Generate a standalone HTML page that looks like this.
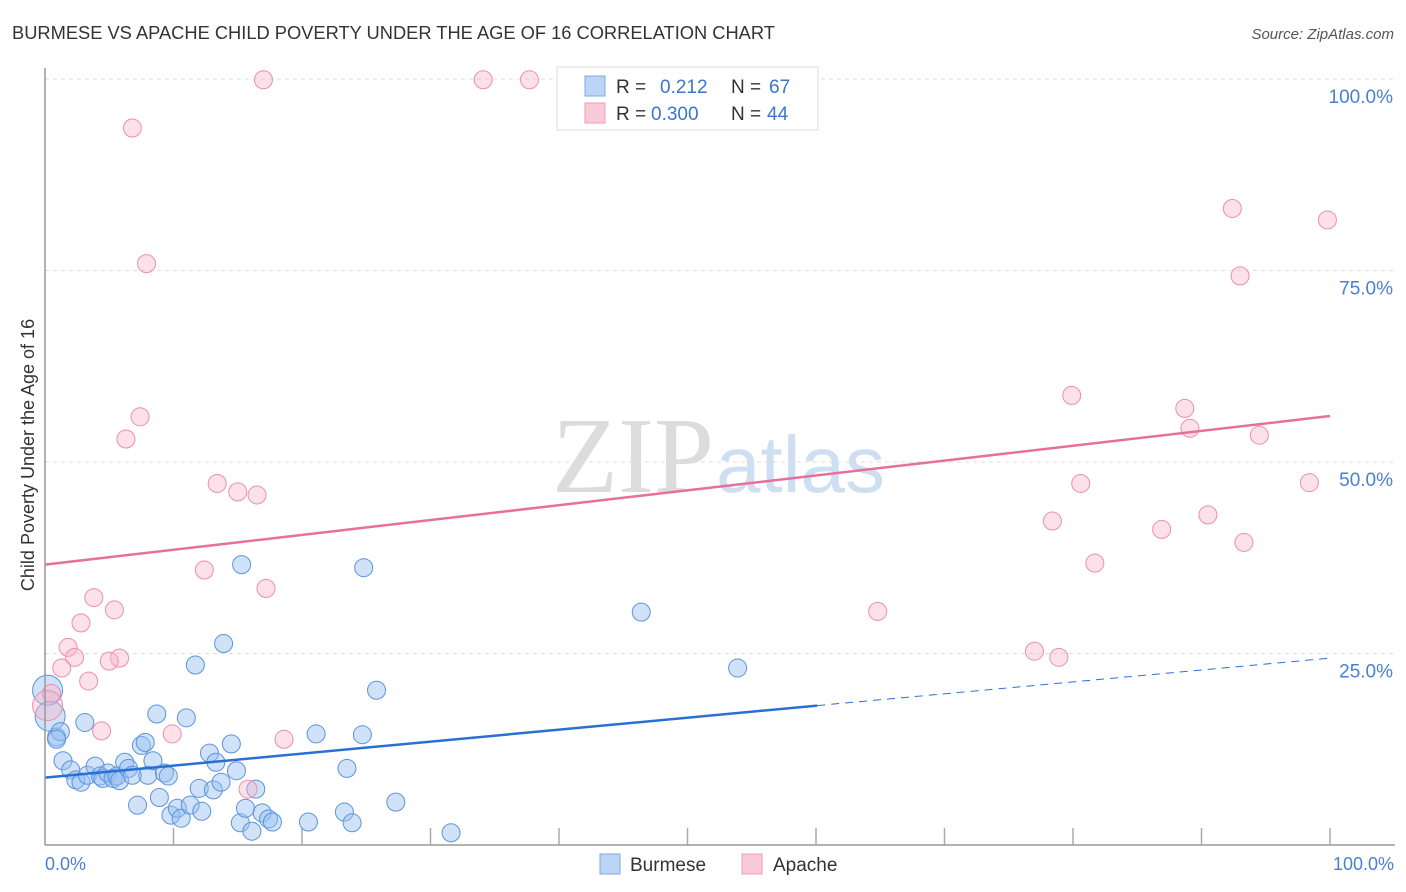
<!DOCTYPE html>
<html><head><meta charset="utf-8"><style>
body{margin:0;background:#fff;font-family:"Liberation Sans",sans-serif}
svg{display:block}
</style></head><body>
<svg id="c" width="1406" height="892" xmlns="http://www.w3.org/2000/svg">
<text x="12" y="39" font-size="18.3" fill="#333">BURMESE VS APACHE CHILD POVERTY UNDER THE AGE OF 16 CORRELATION CHART</text>
<text x="1394" y="39" font-size="15" fill="#555" font-style="italic" text-anchor="end">Source: ZipAtlas.com</text>
<text x="34" y="455" font-size="18" fill="#333" text-anchor="middle" transform="rotate(-90 34 455)">Child Poverty Under the Age of 16</text>
<text x="714" y="492" font-size="108" fill="#dcdcdc" text-anchor="end" font-family="Liberation Serif,serif">ZIP</text>
<text x="716" y="492" font-size="80" fill="#cfdff2">atlas</text>
<g id="grid"></g><g id="marks"></g>
<line x1="45" y1="68" x2="45" y2="845" stroke="#999" stroke-width="1.5"/>
<line x1="45" y1="845" x2="1395" y2="845" stroke="#999" stroke-width="1.5"/>
<text x="45" y="870" font-size="18" fill="#4a7fd4">0.0%</text>
<text x="1394" y="870" font-size="18" fill="#4a7fd4" text-anchor="end">100.0%</text>
<g>
<rect x="557" y="67" width="261" height="63" fill="#fff" stroke="#ddd"/>
<rect x="585" y="76" width="20" height="20" fill="#bcd4f5" stroke="#7fa8e6"/>
<rect x="585" y="103" width="20" height="20" fill="#fbcad8" stroke="#f09ab4"/>
<text y="93" font-size="19" fill="#333"><tspan x="616">R =</tspan><tspan x="660" fill="#3a75d0">0.212</tspan><tspan x="731">N =</tspan><tspan x="769" fill="#3a75d0">67</tspan></text>
<text y="120" font-size="19" fill="#333"><tspan x="616">R =</tspan><tspan x="651" fill="#3a75d0">0.300</tspan><tspan x="731">N =</tspan><tspan x="767" fill="#3a75d0">44</tspan></text>
</g>
<g>
<rect x="600" y="854" width="20" height="20" fill="#bcd4f5" stroke="#7fa8e6"/>
<text x="630" y="871" font-size="19" fill="#333">Burmese</text>
<rect x="742" y="854" width="20" height="20" fill="#fbcad8" stroke="#f09ab4"/>
<text x="773" y="871" font-size="19" fill="#333">Apache</text>
</g>
</svg>
<script>
const yTicks=[25,50,75,100];
const xTicks=[10,20,30,40,50,60,70,80,90,100];
const burmeseX=[0.2,0.4,0.9,1.2,1.4,0.9,2.0,2.4,2.8,3.1,3.3,3.9,4.3,4.5,4.9,5.3,5.6,5.8,6.2,6.5,6.8,7.2,7.5,7.8,8.0,8.4,8.7,8.9,9.3,9.6,9.8,10.3,10.6,11.0,11.3,11.7,12.0,12.2,12.8,13.1,13.3,13.7,13.9,14.5,14.9,15.2,15.3,15.6,16.1,16.4,16.9,17.4,17.7,20.5,21.1,23.3,23.5,23.9,24.7,24.8,25.8,27.3,31.6,46.4,53.9];
const burmeseY=[20.2,16.8,14.1,14.8,11.0,13.8,9.8,8.5,8.2,16.0,9.1,10.3,9.0,8.7,9.4,8.7,9.0,8.4,10.8,10.0,9.1,5.2,13.0,13.4,9.1,11.0,17.1,6.2,9.4,9.0,3.9,4.8,3.5,16.6,5.2,23.5,7.4,4.4,12.0,7.2,10.8,8.2,26.3,13.2,9.7,2.9,36.6,4.8,1.8,7.3,4.2,3.4,3.0,3.0,14.5,4.3,10.0,2.9,14.4,36.2,20.2,5.6,1.6,30.4,23.1];
const apacheX=[17.0,34.1,37.7,6.8,7.9,7.4,6.3,13.4,15.0,16.5,12.4,17.2,3.8,5.4,2.8,1.8,2.3,5.8,5.0,1.3,3.4,0.5,0.2,4.4,9.9,18.6,15.8,92.4,99.8,93.0,79.9,88.7,89.1,94.5,80.6,98.4,78.4,90.5,86.9,93.3,81.7,64.8,77.0,78.9];
const apacheY=[99.9,99.9,99.9,93.6,75.9,55.9,53.0,47.2,46.1,45.7,35.9,33.5,32.3,30.7,29.0,25.8,24.5,24.4,24.0,23.1,21.4,19.8,18.2,14.9,14.5,13.8,7.3,83.1,81.6,74.3,58.7,57.0,54.4,53.5,47.2,47.3,42.3,43.1,41.2,39.5,36.8,30.5,25.3,24.5];
const burmeseTrend=[8.8,18.2,24.4];
const apacheTrend=[36.6,56.0];
const X=v=>45+v*12.85, Y=v=>845-v*7.66;
const NS='http://www.w3.org/2000/svg';
const grid=document.getElementById('grid'), marks=document.getElementById('marks'), svg=document.getElementById('c');
function mk(tag,attrs,parent){const e=document.createElementNS(NS,tag);for(const k in attrs)e.setAttribute(k,attrs[k]);parent.appendChild(e);return e;}
yTicks.forEach(t=>{
  const l=mk('line',{x1:45,x2:1395,y1:Y(t),y2:Y(t),stroke:'#ddd','stroke-dasharray':'4 4'},grid);
  
  
  const tx=mk('text',{x:1393,y:Y(t)+24,'font-size':19,fill:'#4a7fd4','text-anchor':'end'},svg);
  tx.textContent=t.toFixed(1)+'%';
  
  
});
xTicks.forEach(t=>{
  const l=mk('line',{x1:X(t),x2:X(t),y1:828,y2:845,stroke:'#aaa','stroke-width':1.5},grid);
  
  
});
burmeseX.forEach((x,i)=>{
  const r=i<2?15:9;
  const c=mk('circle',{cx:X(x),cy:Y(burmeseY[i]),r:r,fill:'rgba(150,190,240,0.45)',stroke:'#5b93de','stroke-width':1},marks);
  
  
});
apacheX.forEach((x,i)=>{
  const r=i==22?15:9;
  const c=mk('circle',{cx:X(x),cy:Y(apacheY[i]),r:r,fill:'rgba(248,180,200,0.4)',stroke:'#ec8fab','stroke-width':1},marks);
  
  
});
let l=mk('line',{x1:X(0),y1:Y(burmeseTrend[0]),x2:X(60.1),y2:Y(burmeseTrend[1]),stroke:'#2a6fd6','stroke-width':2.5},marks);


l=mk('line',{x1:X(60.1),y1:Y(burmeseTrend[1]),x2:X(100),y2:Y(burmeseTrend[2]),stroke:'#2a6fd6','stroke-width':1,'stroke-dasharray':'8 6'},marks);


l=mk('line',{x1:X(0),y1:Y(apacheTrend[0]),x2:X(100),y2:Y(apacheTrend[1]),stroke:'#e5709a','stroke-width':2.5},marks);


</script>
</body></html>
